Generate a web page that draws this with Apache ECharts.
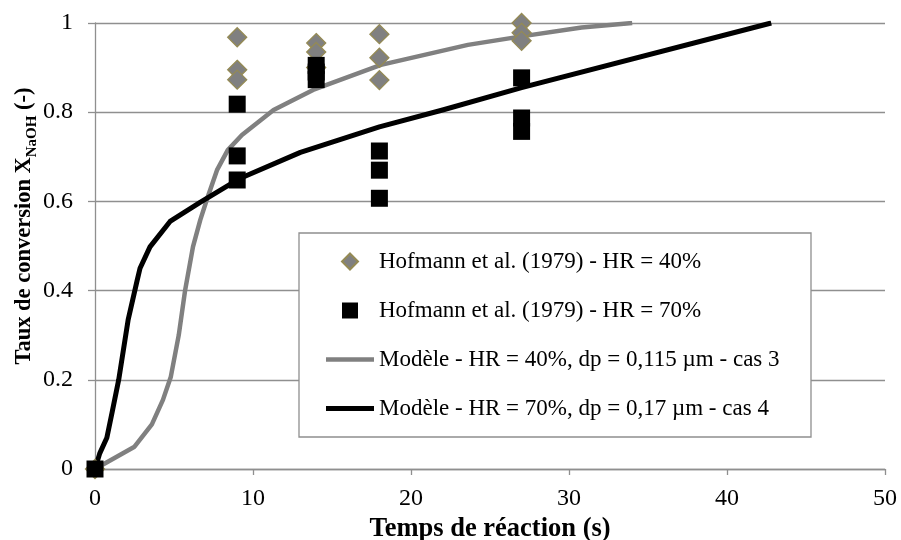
<!DOCTYPE html>
<html>
<head>
<meta charset="utf-8">
<script src="https://cdn.jsdelivr.net/npm/echarts@6/dist/echarts.min.js"></script>
<style>html,body{margin:0;padding:0;background:#fff;}#c{width:901px;height:540px;}</style>
</head>
<body>
<div id="c"></div>
<script>
// Experimental data (Hofmann et al. 1979)
const timeHR40 = [0, 9, 9, 9, 14, 14, 14, 18, 18, 18, 27, 27, 27];
const convHR40 = [0, 0.968, 0.895, 0.873, 0.955, 0.935, 0.90, 0.975, 0.922, 0.872, 1.0, 0.978, 0.96];
const timeHR70 = [0, 9, 9, 9, 14, 14, 14, 18, 18, 18, 27, 27, 27];
const convHR70 = [0, 0.818, 0.702, 0.648, 0.905, 0.89, 0.873, 0.713, 0.670, 0.607, 0.877, 0.787, 0.757];
// Model curves
const timeModel40 = [0, 2.5, 3.6, 4.3, 4.8, 5.3, 5.7, 6.2, 6.66, 7.07, 7.72, 8.4, 9.3, 11.3, 13.8, 18.1, 23.6, 27, 30.8, 34];
const convModel40 = [0, 0.05, 0.1, 0.155, 0.207, 0.3, 0.4, 0.498, 0.558, 0.603, 0.67, 0.715, 0.749, 0.805, 0.85, 0.906, 0.951, 0.97, 0.99, 1.0];
const timeModel70 = [0, 0.3, 0.75, 1.1, 1.5, 2.1, 2.65, 2.85, 3.48, 4.75, 6.65, 9.2, 13, 18, 22, 27, 42.8];
const convModel70 = [0, 0.035, 0.07, 0.13, 0.2, 0.335, 0.42, 0.45, 0.498, 0.555, 0.598, 0.652, 0.71, 0.767, 0.805, 0.855, 1.0];
// Labels
const seriesNames = [
  'Hofmann et al. (1979) - HR = 40%',
  'Hofmann et al. (1979) - HR = 70%',
  'Modèle - HR = 40%, dp = 0,115 µm - cas 3',
  'Modèle - HR = 70%, dp = 0,17 µm - cas 4'
];
const xTitle = 'Temps de réaction (s)';
const yTitleMain = 'Taux de conversion X';
const yTitleSub = 'NaOH';
const yTitleEnd = ' (-)';

const zip = (a, b) => a.map((v, i) => [v, b[i]]);
const FONT = "'Times New Roman', 'Liberation Serif', serif";
const GRID = '#8f8f8f';

const chart = echarts.init(document.getElementById('c'), null, {renderer: 'canvas'});
chart.setOption({
  animation: false,
  backgroundColor: '#fff',
  grid: {left: 95, right: 16, top: 23, bottom: 71, containLabel: false, outerBoundsMode: 'none'},
  xAxis: {
    type: 'value', min: 0, max: 50, interval: 10,
    name: xTitle, nameLocation: 'middle', nameGap: 47, nameMoveOverlap: false,
    nameTextStyle: {fontFamily: FONT, fontWeight: 'bold', fontSize: 26.5, color: '#000'},
    axisLine: {show: true, lineStyle: {color: GRID, width: 1.3}},
    axisTick: {show: true, length: 6, lineStyle: {color: GRID, width: 1.3}},
    axisLabel: {fontFamily: FONT, fontSize: 24, color: '#000', margin: 18},
    splitLine: {show: false}
  },
  yAxis: {
    type: 'value', min: 0, max: 1, interval: 0.2,
    name: '{a|' + yTitleMain + '}{s|' + yTitleSub + '}{a|' + yTitleEnd + '}',
    nameLocation: 'middle', nameGap: 55, nameRotate: 90, nameMoveOverlap: false,
    nameTextStyle: {
      fontFamily: FONT, fontWeight: 'bold', fontSize: 22.5, color: '#000',
      padding: [0, 0, 0, 40],
      rich: {
        a: {fontFamily: FONT, fontWeight: 'bold', fontSize: 22.5, color: '#000', lineHeight: 22, verticalAlign: 'top'},
        s: {fontFamily: FONT, fontWeight: 'bold', fontSize: 15, color: '#000', lineHeight: 27, verticalAlign: 'bottom'}
      }
    },
    axisLine: {show: true, lineStyle: {color: GRID, width: 1.3}},
    axisTick: {show: true, length: 7, lineStyle: {color: GRID, width: 1.3}},
    axisLabel: {fontFamily: FONT, fontSize: 24, color: '#000', margin: 22},
    splitLine: {show: true, lineStyle: {color: GRID, width: 1.3}}
  },
  legend: {
    orient: 'vertical', left: 326, top: 250, padding: 0,
    itemWidth: 48, itemHeight: 16, itemGap: 26,
    textStyle: {fontFamily: FONT, fontSize: 23, color: '#000', lineHeight: 23},
    data: [
      {name: seriesNames[0], icon: 'path://M0,-1L1,0L0,1L-1,0Z'},
      {name: seriesNames[1], icon: 'path://M0,0H1V1H0Z'},
      {name: seriesNames[2], icon: 'path://M0,0H48V4.5H0Z'},
      {name: seriesNames[3], icon: 'path://M0,0H48V5H0Z'}
    ],
    z: 5
  },
  graphic: [{
    type: 'rect', z: 3,
    shape: {x: 299, y: 233, width: 512, height: 204},
    style: {fill: '#fff', stroke: GRID, lineWidth: 1.3}
  }],
  series: [
    {
      name: seriesNames[0], type: 'scatter', symbol: 'diamond', symbolSize: 19,
      itemStyle: {color: '#808080', borderColor: '#948a54', borderWidth: 1.3, opacity: 1},
      data: zip(timeHR40, convHR40), z: 2
    },
    {
      name: seriesNames[1], type: 'scatter', symbol: 'rect', symbolSize: 17,
      itemStyle: {color: '#000', opacity: 1},
      data: zip(timeHR70, convHR70), z: 2
    },
    {
      name: seriesNames[2], type: 'line', symbol: 'none', showSymbol: false,
      smooth: false,
      lineStyle: {color: '#808080', width: 4.5, join: 'round'},
      itemStyle: {color: '#808080'},
      data: zip(timeModel40, convModel40), z: 2
    },
    {
      name: seriesNames[3], type: 'line', symbol: 'none', showSymbol: false,
      smooth: false,
      lineStyle: {color: '#000', width: 5, join: 'round'},
      itemStyle: {color: '#000'},
      data: zip(timeModel70, convModel70), z: 2
    }
  ]
});
</script>
</body>
</html>
